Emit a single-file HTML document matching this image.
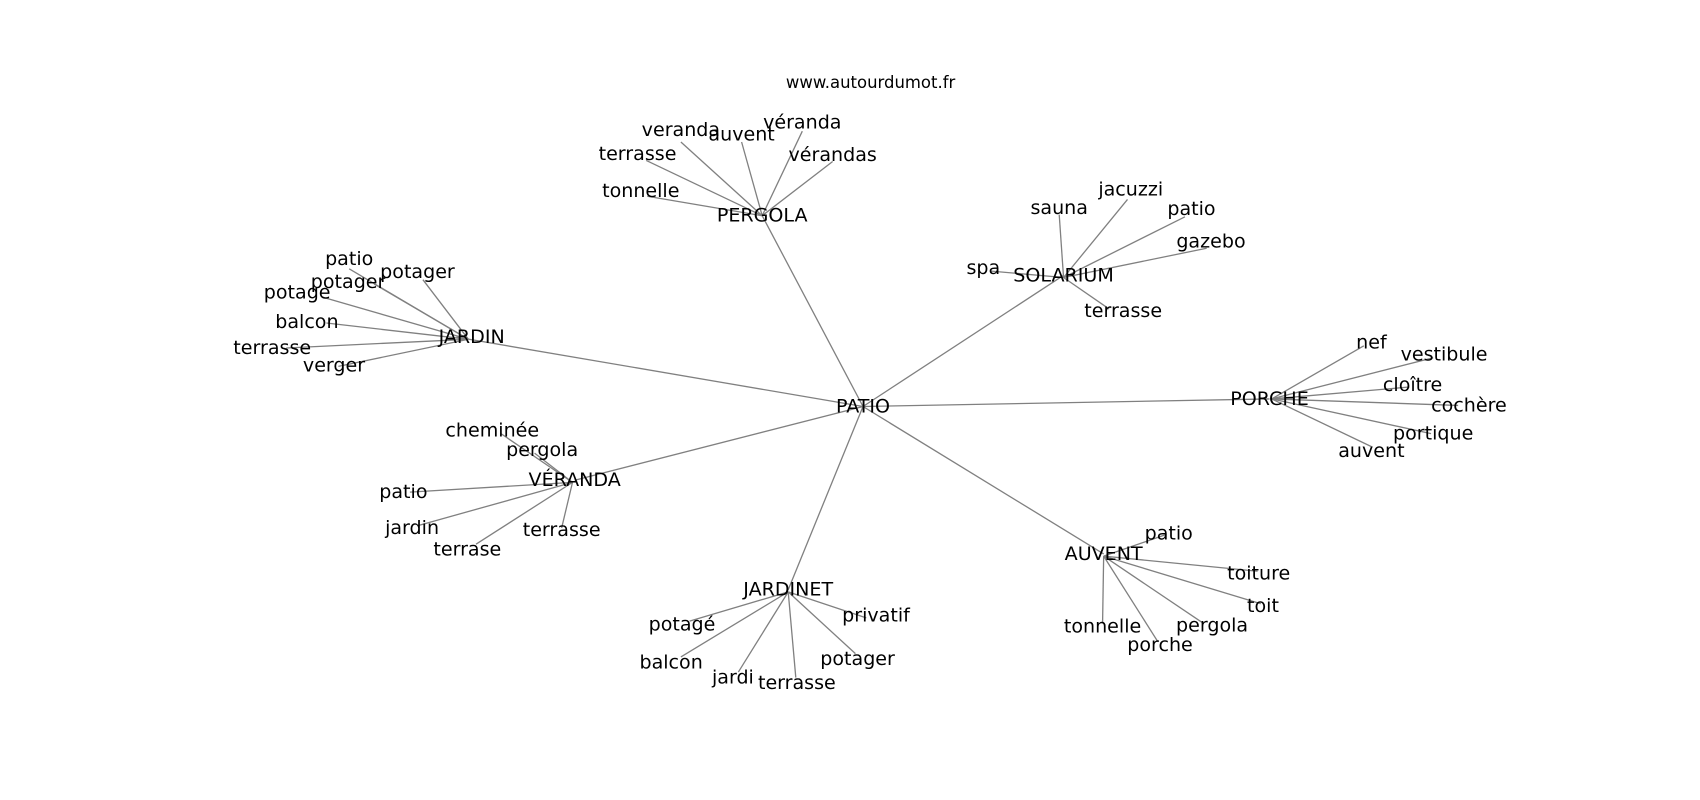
<!DOCTYPE html>
<html><head><meta charset="utf-8"><style>
html,body{margin:0;padding:0;background:#fff;}
svg{display:block;}
text{font-family:"DejaVu Sans","Liberation Sans",sans-serif;font-size:17.6px;fill:#000;text-anchor:middle;dominant-baseline:central;}
line{stroke:#808080;stroke-width:1.2;}
</style></head><body>
<svg width="1700" height="800" viewBox="0 0 1568 738" xmlns="http://www.w3.org/2000/svg">
<g>
<line x1="796" y1="375" x2="703" y2="199"/>
<line x1="796" y1="375" x2="981" y2="254"/>
<line x1="796" y1="375" x2="421" y2="311"/>
<line x1="796" y1="375" x2="1171" y2="368"/>
<line x1="796" y1="375" x2="530" y2="443"/>
<line x1="796" y1="375" x2="727" y2="544"/>
<line x1="796" y1="375" x2="1018" y2="511"/>
<line x1="703" y1="199" x2="628" y2="131"/>
<line x1="703" y1="199" x2="684" y2="131"/>
<line x1="703" y1="199" x2="740" y2="121"/>
<line x1="703" y1="199" x2="768" y2="149"/>
<line x1="703" y1="199" x2="596" y2="148"/>
<line x1="703" y1="199" x2="597" y2="181"/>
<line x1="981" y1="256" x2="977" y2="198"/>
<line x1="981" y1="256" x2="1040" y2="184"/>
<line x1="981" y1="256" x2="1093" y2="200"/>
<line x1="981" y1="256" x2="1113" y2="229"/>
<line x1="981" y1="256" x2="913" y2="250"/>
<line x1="981" y1="256" x2="1023" y2="285"/>
<line x1="432" y1="313" x2="322" y2="248"/>
<line x1="432" y1="313" x2="345" y2="262"/>
<line x1="432" y1="313" x2="390" y2="258"/>
<line x1="432" y1="313" x2="297" y2="274"/>
<line x1="432" y1="313" x2="301" y2="298"/>
<line x1="432" y1="313" x2="264" y2="321"/>
<line x1="432" y1="313" x2="312" y2="338"/>
<line x1="1173" y1="368" x2="1258" y2="319"/>
<line x1="1173" y1="368" x2="1322" y2="330"/>
<line x1="1173" y1="368" x2="1300" y2="357"/>
<line x1="1173" y1="368" x2="1345" y2="374"/>
<line x1="1173" y1="368" x2="1320" y2="400"/>
<line x1="1173" y1="368" x2="1265" y2="412"/>
<line x1="528" y1="445" x2="462" y2="400"/>
<line x1="528" y1="445" x2="493" y2="418"/>
<line x1="528" y1="445" x2="378" y2="454"/>
<line x1="528" y1="445" x2="385" y2="485"/>
<line x1="528" y1="445" x2="439" y2="502"/>
<line x1="528" y1="445" x2="518" y2="487"/>
<line x1="727" y1="546" x2="636" y2="573"/>
<line x1="727" y1="546" x2="628" y2="606"/>
<line x1="727" y1="546" x2="681" y2="620"/>
<line x1="727" y1="546" x2="734" y2="625"/>
<line x1="727" y1="546" x2="789" y2="603"/>
<line x1="727" y1="546" x2="799" y2="570"/>
<line x1="1018" y1="513" x2="1076" y2="493"/>
<line x1="1018" y1="513" x2="1160" y2="527"/>
<line x1="1018" y1="513" x2="1163" y2="557"/>
<line x1="1018" y1="513" x2="1110" y2="575"/>
<line x1="1018" y1="513" x2="1068" y2="592"/>
<line x1="1018" y1="513" x2="1017" y2="575"/>
</g>
<text x="803" y="76" style="font-size:15.2px">www.autourdumot.fr</text>
<text x="796" y="375">PATIO</text>
<text x="703" y="199">PERGOLA</text>
<text x="628" y="120">veranda</text>
<text x="684" y="124">auvent</text>
<text x="740" y="113">véranda</text>
<text x="768" y="143">vérandas</text>
<text x="588" y="142">terrasse</text>
<text x="591" y="176">tonnelle</text>
<text x="981" y="254">SOLARIUM</text>
<text x="977" y="192">sauna</text>
<text x="1043" y="175">jacuzzi</text>
<text x="1099" y="193">patio</text>
<text x="1117" y="223">gazebo</text>
<text x="907" y="247">spa</text>
<text x="1036" y="287">terrasse</text>
<text x="435" y="311">JARDIN</text>
<text x="322" y="239">patio</text>
<text x="321" y="260">potager</text>
<text x="385" y="251">potager</text>
<text x="274" y="270">potage</text>
<text x="283" y="297">balcon</text>
<text x="251" y="321">terrasse</text>
<text x="308" y="337">verger</text>
<text x="1171" y="368">PORCHE</text>
<text x="1265" y="316">nef</text>
<text x="1332" y="327">vestibule</text>
<text x="1303" y="355">cloître</text>
<text x="1355" y="374">cochère</text>
<text x="1322" y="400">portique</text>
<text x="1265" y="416">auvent</text>
<text x="530" y="443">VÉRANDA</text>
<text x="454" y="397">cheminée</text>
<text x="500" y="415">pergola</text>
<text x="372" y="454">patio</text>
<text x="380" y="487">jardin</text>
<text x="431" y="507">terrase</text>
<text x="518" y="489">terrasse</text>
<text x="727" y="544">JARDINET</text>
<text x="629" y="576">potagé</text>
<text x="619" y="611">balcon</text>
<text x="676" y="625">jardi</text>
<text x="735" y="630">terrasse</text>
<text x="791" y="608">potager</text>
<text x="808" y="568">privatif</text>
<text x="1018" y="511">AUVENT</text>
<text x="1078" y="492">patio</text>
<text x="1161" y="529">toiture</text>
<text x="1165" y="559">toit</text>
<text x="1118" y="577">pergola</text>
<text x="1070" y="595">porche</text>
<text x="1017" y="578">tonnelle</text>
</svg>
</body></html>
